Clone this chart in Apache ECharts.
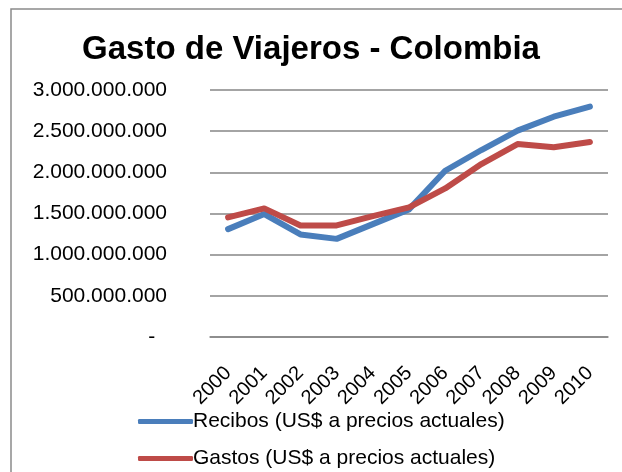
<!DOCTYPE html>
<html>
<head>
<meta charset="utf-8">
<script src="https://cdn.jsdelivr.net/npm/echarts@6/dist/echarts.min.js"></script>
<style>
  html, body { margin: 0; padding: 0; background: #fff; }
  #chart { width: 622px; height: 472px; }
</style>
</head>
<body>
<div id="chart"></div>
<script>
// Years on the category axis
const years = ['2000', '2001', '2002', '2003', '2004', '2005', '2006', '2007', '2008', '2009', '2010'];

// Travel receipts, current US$
const recibos = [1310e6, 1493e6, 1246e6, 1192e6, 1371e6, 1550e6, 2019e6, 2271e6, 2506e6, 2676e6, 2798e6];

// Travel expenditures, current US$
const gastos = [1452e6, 1562e6, 1355e6, 1355e6, 1468e6, 1575e6, 1805e6, 2101e6, 2344e6, 2304e6, 2368e6];

// Series names shown in the legend
const nameRecibos = 'Recibos (US$ a precios actuales)';
const nameGastos = 'Gastos (US$ a precios actuales)';

// Value-axis tick settings
const yMin = 0, yMax = 3000000000, yStep = 500000000;

const font = '"Liberation Sans", Arial, sans-serif';

function fmtThousands(v) {
  if (v === 0) return '-  ';
  return String(Math.round(v)).replace(/\B(?=(\d{3})+(?!\d))/g, '.');
}

function legendEntry(name, top) {
  return {
    orient: 'vertical',
    left: 133,
    top: top,
    itemWidth: 55,
    itemHeight: 5,
    itemGap: 0,
    icon: 'roundRect',
    textStyle: { fontFamily: font, fontSize: 21, color: '#000', padding: [0, 0, 0, -5] },
    data: [name]
  };
}

const chart = echarts.init(document.getElementById('chart'), null, { renderer: 'canvas' });

chart.setOption({
  backgroundColor: '#ffffff',
  animation: false,
  graphic: [{
    type: 'rect',
    shape: { x: 11, y: 9, width: 700, height: 600 },
    style: { fill: 'none', stroke: '#8a8a8a', lineWidth: 1.5 },
    silent: true
  }],
  title: {
    text: 'Gasto de Viajeros - Colombia',
    left: 'center',
    top: 28,
    textStyle: { fontFamily: font, fontSize: 33, fontWeight: 'bold', color: '#000' }
  },
  legend: [
    legendEntry(nameRecibos, 406),
    legendEntry(nameGastos, 443)
  ],
  grid: { left: 210, right: 14, top: 90, bottom: 135 },
  xAxis: {
    type: 'category',
    data: years,
    boundaryGap: true,
    axisLine: { show: true, lineStyle: { color: '#868686', width: 1.5 } },
    axisTick: { show: false },
    axisLabel: {
      interval: 0,
      hideOverlap: false,
      rotate: 45,
      margin: 33,
      fontFamily: font,
      fontSize: 20,
      color: '#000'
    }
  },
  yAxis: {
    type: 'value',
    min: yMin,
    max: yMax,
    interval: yStep,
    axisLine: { show: false },
    axisTick: { show: false },
    splitLine: { show: true, lineStyle: { color: '#868686', width: 1.5 } },
    axisLabel: {
      margin: 43,
      fontFamily: font,
      fontSize: 21,
      color: '#000',
      formatter: fmtThousands
    }
  },
  series: [
    {
      name: nameRecibos,
      type: 'line',
      data: recibos,
      showSymbol: false,
      symbol: 'none',
      color: '#4a7ebb',
      lineStyle: { width: 6, color: '#4a7ebb', cap: 'round', join: 'round' }
    },
    {
      name: nameGastos,
      type: 'line',
      data: gastos,
      showSymbol: false,
      symbol: 'none',
      color: '#be4b48',
      lineStyle: { width: 6, color: '#be4b48', cap: 'round', join: 'round' }
    }
  ]
});
</script>
</body>
</html>
